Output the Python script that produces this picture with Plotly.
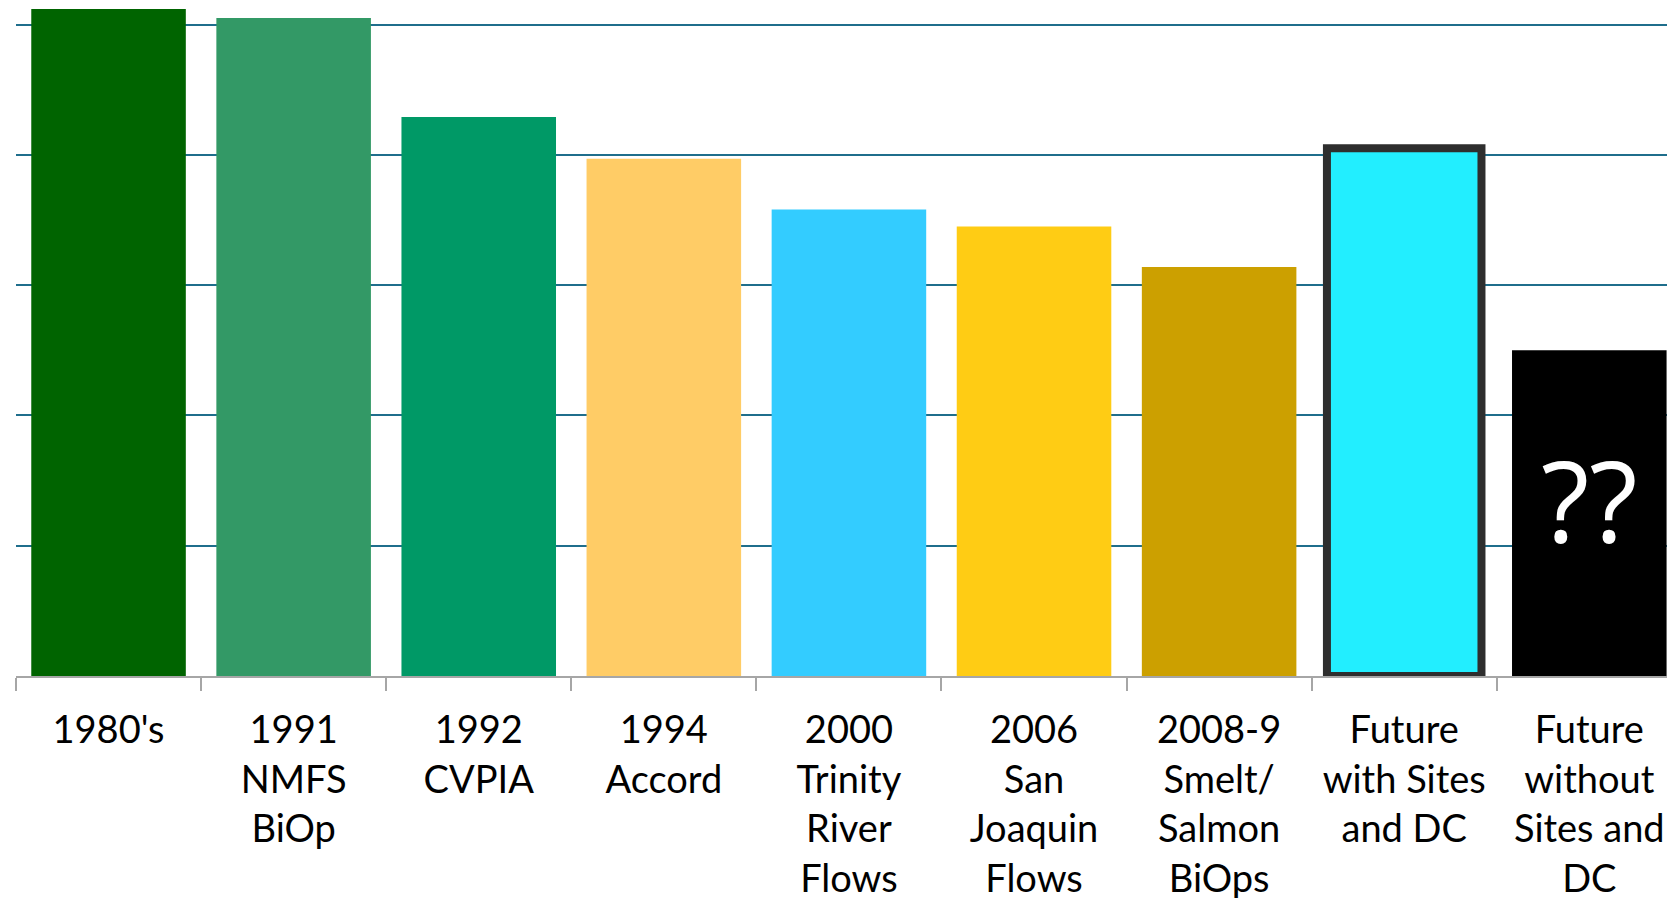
import plotly.graph_objects as go

categories = [
    "1980's",
    "1991<br>NMFS<br>BiOp",
    "1992<br>CVPIA",
    "1994<br>Accord",
    "2000<br>Trinity<br>River<br>Flows",
    "2006<br>San<br>Joaquin<br>Flows",
    "2008-9<br>Smelt/<br>Salmon<br>BiOps",
    "Future<br>with Sites<br>and DC",
    "Future<br>without<br>Sites and<br>DC",
]
values = [5.12, 5.05, 4.29, 3.97, 3.58, 3.45, 3.14, 4.05, 2.50]
colors = ["#006400", "#339966", "#009966", "#FFCC66", "#33CCFF",
          "#FFCC14", "#CCA000", "#22EEFF", "#000000"]
line_widths = [0, 0, 0, 0, 0, 0, 0, 8, 0]
line_colors = ["rgba(0,0,0,0)"] * 7 + ["#2E2E2E", "rgba(0,0,0,0)"]

fig = go.Figure()
fig.add_trace(go.Bar(
    x=categories,
    y=values,
    marker=dict(color=colors, line=dict(width=line_widths, color=line_colors)),
    width=0.835,
    hoverinfo="skip",
))

fig.add_annotation(
    x=categories[8], y=1.36, text="??", showarrow=False,
    font=dict(family="Open Sans", size=112, color="white"),
    xanchor="center", yanchor="middle",
)

fig.update_layout(
    width=1667, height=890,
    margin=dict(l=8, r=0, t=0, b=222, autoexpand=False),
    paper_bgcolor="white", plot_bgcolor="white",
    showlegend=False,
    bargap=0.165,
    font=dict(family="Lato", size=38, color="black"),
)
fig.update_xaxes(
    type="category",
    categoryorder="array", categoryarray=categories,
    range=[-0.5, 8.463],
    automargin=False,
    showline=True, linecolor="#A6A6A6", linewidth=1.5,
    ticks="outside", tickson="boundaries", ticklen=13,
    tickcolor="#A6A6A6", tickwidth=1.5,
    showgrid=False, zeroline=False,
    tickangle=0,
    ticklabelstandoff=20,
)
fig.update_yaxes(
    range=[0, 5.127],
    automargin=False,
    showgrid=True, gridcolor="#1F6E8C", gridwidth=2.4,
    dtick=1, tick0=0,
    showticklabels=False, zeroline=False, showline=False,
)

fig.write_html("out.html")
